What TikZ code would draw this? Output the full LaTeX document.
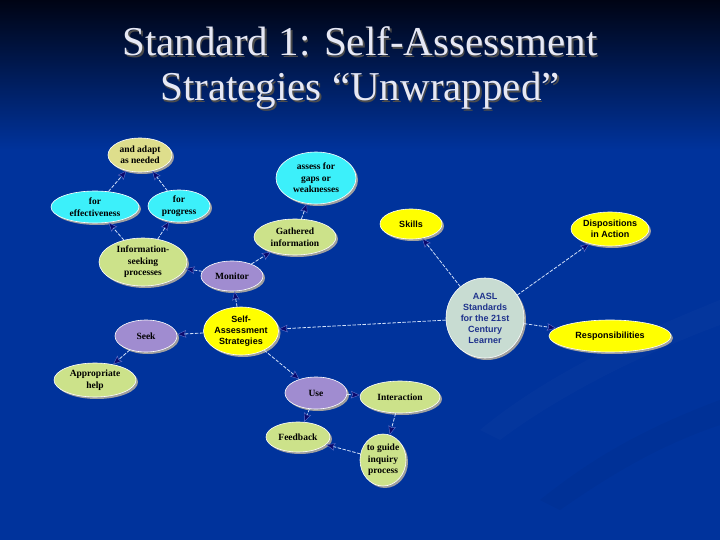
\documentclass[tikz,border=0pt]{standalone}
\usepackage{fontspec}
\setmainfont{Liberation Serif}
\setsansfont{Liberation Sans}
\usetikzlibrary{shapes.geometric,arrows.meta,shadows}
\definecolor{bgblue}{RGB}{0,51,156}
\definecolor{bgtop}{RGB}{0,4,20}
\definecolor{cyanfill}{RGB}{60,240,250}
\definecolor{khaki}{RGB}{222,222,140}
\definecolor{lgreen}{RGB}{204,226,138}
\definecolor{lav}{RGB}{160,140,208}
\definecolor{yel}{RGB}{255,255,0}
\definecolor{aasl}{RGB}{200,220,210}
\definecolor{tipnavy}{RGB}{10,10,110}
\definecolor{tipedge}{RGB}{100,120,210}
\definecolor{linec}{RGB}{210,225,250}
\definecolor{titlec}{RGB}{230,232,245}
\definecolor{aasltext}{RGB}{30,50,140}
\tikzset{
  bub/.style={ellipse, draw=white, line width=0.6pt, inner sep=0pt, align=center,
    font=\fontsize{9.5}{11.5}\selectfont\bfseries,
    drop shadow={shadow xshift=2pt, shadow yshift=-2pt, fill=gray!75, opacity=1}},
  sbub/.style={bub, font=\sffamily\fontsize{9}{11}\selectfont\bfseries},
  conn/.style={draw=linec, line width=0.8pt, dash pattern=on 3.5pt off 1.5pt,
    -{Stealth[length=9pt,width=7.5pt,inset=1.5pt,color=tipedge,fill=tipnavy,line width=0.4pt]}},
}
\begin{document}
\begin{tikzpicture}[x=1pt,y=-1pt]
\useasboundingbox (0,0) rectangle (720,540);
\fill[bgblue] (0,0) rectangle (720,540);
\shade[top color=bgtop, bottom color=bgblue] (0,0) rectangle (720,150);
\fill[white, opacity=0.015] (720,300) .. controls (620,340) and (540,380) .. (480,430) -- (500,440) .. controls (560,395) and (640,355) .. (720,325) -- cycle;
\fill[black, opacity=0.03] (720,400) .. controls (640,430) and (590,460) .. (540,500) -- (560,510) .. controls (610,475) and (660,445) .. (720,425) -- cycle;

\node[text=black!70, font=\fontsize{41}{45}\selectfont, align=center] (tshadow) at (361.5,69.5)
  {Standard 1: Self-Assessment\\Strategies “Unwrapped”};
\node[text=titlec, font=\fontsize{41}{45}\selectfont, align=center] (title) at (360,68)
  {Standard 1: Self-Assessment\\Strategies “Unwrapped”};

% nodes
\node[bub, fill=khaki, minimum width=64pt, minimum height=34pt] (adapt) at (140,155) {and adapt\\as needed};
\node[bub, fill=cyanfill, minimum width=88pt, minimum height=32pt] (eff) at (95,207) {for\\effectiveness};
\node[bub, fill=cyanfill, minimum width=62pt, minimum height=32pt] (prog) at (179,206) {for\\progress};
\node[bub, fill=lgreen, minimum width=88pt, minimum height=48pt] (info) at (143,262) {Information-\\seeking\\processes};
\node[bub, fill=lav, minimum width=62pt, minimum height=30pt] (mon) at (232,276) {Monitor};
\node[bub, fill=lgreen, minimum width=82pt, minimum height=36pt] (gath) at (295,237) {Gathered\\information};
\node[bub, fill=cyanfill, minimum width=80pt, minimum height=52pt] (gaps) at (316,178) {assess for\\gaps or\\weaknesses};
\node[sbub, fill=yel, minimum width=62pt, minimum height=30pt] (skills) at (411,224) {Skills};
\node[sbub, fill=yel, minimum width=78pt, minimum height=34pt] (disp) at (610,229) {Dispositions\\in Action};
\node[sbub, fill=aasl, text=aasltext, minimum width=78pt, minimum height=80pt] (aasl) at (485,318) {AASL\\Standards\\for the 21st\\Century\\Learner};
\node[sbub, fill=yel, minimum width=122pt, minimum height=32pt] (resp) at (610,336) {Responsibilities};
\node[sbub, fill=yel, minimum width=72pt, minimum height=48pt] (sa) at (241,331) {Self-\\Assessment\\Strategies};
\node[bub, fill=lav, minimum width=62pt, minimum height=32pt] (seek) at (146,336) {Seek};
\node[bub, fill=lgreen, minimum width=82pt, minimum height=34pt] (help) at (95,380) {Appropriate\\help};
\node[bub, fill=lav, minimum width=62pt, minimum height=32pt] (use) at (316,393) {Use};
\node[bub, fill=lgreen, minimum width=80pt, minimum height=32pt] (inter) at (400,397) {Interaction};
\node[bub, fill=lgreen, minimum width=64pt, minimum height=30pt] (feed) at (298,437) {Feedback};
\node[bub, fill=lgreen, minimum width=46pt, minimum height=52pt] (guide) at (383,460) {to guide\\inquiry\\process};

% connectors
\draw[conn] (eff) -- (adapt);
\draw[conn] (prog) -- (adapt);
\draw[conn] (info) -- (eff);
\draw[conn] (info) -- (prog);
\draw[conn] (mon) -- (info);
\draw[conn] (mon) -- (gath);
\draw[conn] (gath) -- (gaps);
\draw[conn] (sa) -- (mon);
\draw[conn] (sa) -- (seek);
\draw[conn] (seek) -- (help);
\draw[conn] (sa) -- (use);
\draw[conn] (use) -- (inter);
\draw[conn] (use) -- (feed);
\draw[conn] (inter) -- (guide);
\draw[conn] (guide) -- (feed);
\draw[conn] (aasl) -- (sa);
\draw[conn] (aasl) -- (skills);
\draw[conn] (aasl) -- (disp);
\draw[conn] (aasl) -- (resp);
\end{tikzpicture}
\end{document}
